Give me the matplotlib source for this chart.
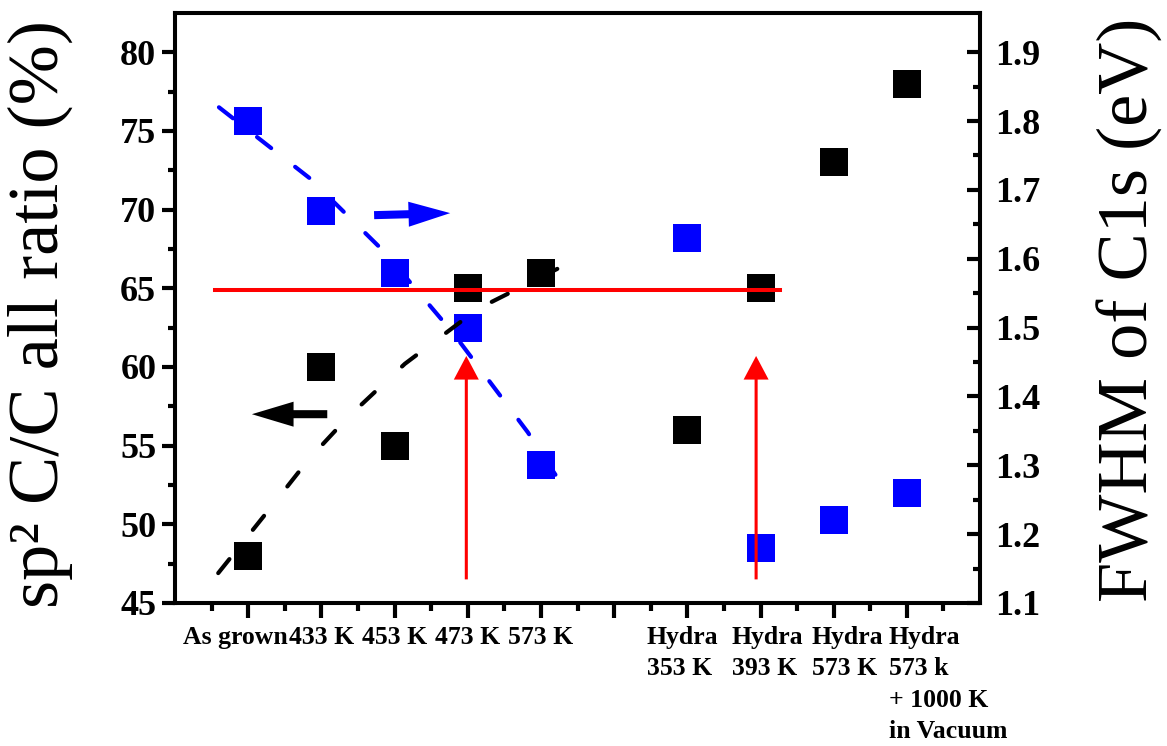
import numpy as np
import matplotlib
matplotlib.use('Agg')
import matplotlib.pyplot as plt
import matplotlib.transforms as mtransforms
from matplotlib.ticker import MultipleLocator, FixedLocator, FormatStrFormatter
from matplotlib.patches import FancyArrowPatch, ArrowStyle

plt.rcParams['font.family'] = ['Liberation Serif', 'DejaVu Serif']

# samples along the x axis (slot 6 is left empty in the original)
positions = [1, 2, 3, 4, 5, 7, 8, 9, 10]
sp2_ratio = [48, 60, 55, 65, 66, 56, 65, 73, 78]          # left axis, %
fwhm_c1s = [1.80, 1.67, 1.58, 1.50, 1.30, 1.63, 1.18, 1.22, 1.26]  # right axis, eV

tick_pos = list(range(1, 11))
tick_labels = ['As grown', '433 K', '453 K', '473 K', '573 K', '',
               'Hydra\n353 K', 'Hydra\n393 K', 'Hydra\n573 K',
               'Hydra\n573 k\n+ 1000 K\nin Vacuum']

# hand drawn guide curves
sp2_guide_x = [0.59, 1.33, 1.83, 2.35, 3.14, 4.14, 5.40]
sp2_guide_y = [46.9, 51.2, 54.15, 56.75, 60.2, 63.7, 66.65]
fwhm_guide_x = [0.60, 1.84, 2.86, 3.80, 4.82, 5.31]
fwhm_guide_y = [1.820, 1.717, 1.610, 1.492, 1.348, 1.268]

# red reference line and arrows (left axis units)
ref_level = 64.9
ref_x = [0.55, 8.27]
red_arrow_x = [3.98, 7.94]
red_arrow_y = [46.5, 60.7]

# axis pointers: (x_from, y_from, x_to, y_to) on the left axis
left_pointer = (2.08, 57.0, 1.05, 57.0)
right_pointer = (2.72, 69.65, 3.76, 69.78)


def shift(label, fig, px):
    """ nudge a tick label sideways by px pixels """
    label.set_transform(label.get_transform() +
                        mtransforms.ScaledTranslation(px / 100, 0, fig.dpi_scale_trans))


def main():
    fig = plt.figure(figsize=(11.67, 7.46), dpi=100)
    ax = fig.add_axes([0.1500, 0.1917, 0.6898, 0.7909])
    ax2 = ax.twinx()
    # left axes on top so red lines sit above the blue squares
    ax.set_zorder(ax2.get_zorder() + 1)
    ax.patch.set_visible(False)

    # blue series on the right axis
    ax2.plot(fwhm_guide_x, fwhm_guide_y, color='#0000FF', lw=3,
             linestyle=(0, (4.3, 7.3)), dash_capstyle='round')
    ax2.plot(positions, fwhm_c1s, 's', color='#0000FF', markersize=19.5, mew=0)

    # black series on the left axis
    ax.plot(sp2_guide_x, sp2_guide_y, color='black', lw=3,
            linestyle=(0, (4.3, 9.0)), dash_capstyle='round')
    ax.plot(positions, sp2_ratio, 's', color='black', markersize=19.5, mew=0)

    # red horizontal line + arrows
    ax.plot(ref_x, [ref_level, ref_level], color='#FF0000', lw=2.9)
    for xa in red_arrow_x:
        ax.add_patch(FancyArrowPatch((xa, red_arrow_y[0]), (xa, red_arrow_y[1]),
                                     arrowstyle=ArrowStyle.Simple(head_length=17, head_width=18,
                                                                  tail_width=2.2),
                                     mutation_scale=1, color='#FF0000', lw=0,
                                     shrinkA=0, shrinkB=0))

    # pointers telling which axis each series belongs to
    for p, c in [(left_pointer, 'black'), (right_pointer, '#0000FF')]:
        ax.add_patch(FancyArrowPatch((p[0], p[1]), (p[2], p[3]),
                                     arrowstyle=ArrowStyle.Simple(head_length=30, head_width=18,
                                                                  tail_width=5.8),
                                     mutation_scale=1, color=c, lw=0,
                                     shrinkA=0, shrinkB=0, capstyle='round'))

    ax.set_xlim(0, 11)
    ax.set_ylim(45, 82.5)
    ax2.set_ylim(1.1, 1.957)

    ax.xaxis.set_major_locator(FixedLocator(tick_pos))
    ax.set_xticklabels(tick_labels)
    ax.xaxis.set_minor_locator(FixedLocator(np.arange(0.5, 11, 1.0)))
    ax.yaxis.set_major_locator(MultipleLocator(5))
    ax.yaxis.set_minor_locator(FixedLocator(np.arange(47.5, 80, 5)))
    ax2.yaxis.set_major_locator(FixedLocator(np.arange(1.1, 1.91, 0.1)))
    ax2.yaxis.set_minor_locator(FixedLocator(np.arange(1.15, 1.9, 0.1)))
    ax2.yaxis.set_major_formatter(FormatStrFormatter('%.1f'))

    for a in (ax, ax2):
        for s in a.spines.values():
            s.set_linewidth(2.9)

    ax.tick_params(axis='y', which='major', direction='out', length=9.5, width=3,
                   labelsize=26, pad=4)
    ax.tick_params(axis='y', which='minor', direction='out', length=5, width=3)
    ax.tick_params(axis='x', which='major', direction='out', length=11, width=3,
                   labelsize=18.5, pad=5.5)
    ax.tick_params(axis='x', which='minor', direction='out', length=5.5, width=3)
    ax2.tick_params(axis='y', which='major', direction='in', length=9.5, width=3,
                    labelsize=26, pad=11)
    ax2.tick_params(axis='y', which='minor', direction='in', length=5, width=3)

    for lab in ax.get_xticklabels() + ax.get_yticklabels() + ax2.get_yticklabels():
        lab.set_fontweight('bold')
    for lab in ax.get_xticklabels():
        lab.set_multialignment('left')
        lab.set_linespacing(1.47)

    xlabs = ax.get_xticklabels()
    shift(xlabs[0], fig, -13)
    shift(xlabs[6], fig, -5)
    shift(xlabs[7], fig, 7)
    shift(xlabs[8], fig, 14)
    xlabs[-1].set_horizontalalignment('left')
    shift(xlabs[-1], fig, -18)

    ax.set_ylabel('sp² C/C all ratio (%)', fontsize=52, va='center', ha='center')
    ax.yaxis.set_label_coords(-0.167, 0.49)
    ax2.set_ylabel('FWHM of C1s (eV)', fontsize=52, va='center', ha='center')
    ax2.yaxis.set_label_coords(1.186, 0.497)

    fig.savefig('out.png', dpi=100)


if __name__ == "__main__":
    main()
